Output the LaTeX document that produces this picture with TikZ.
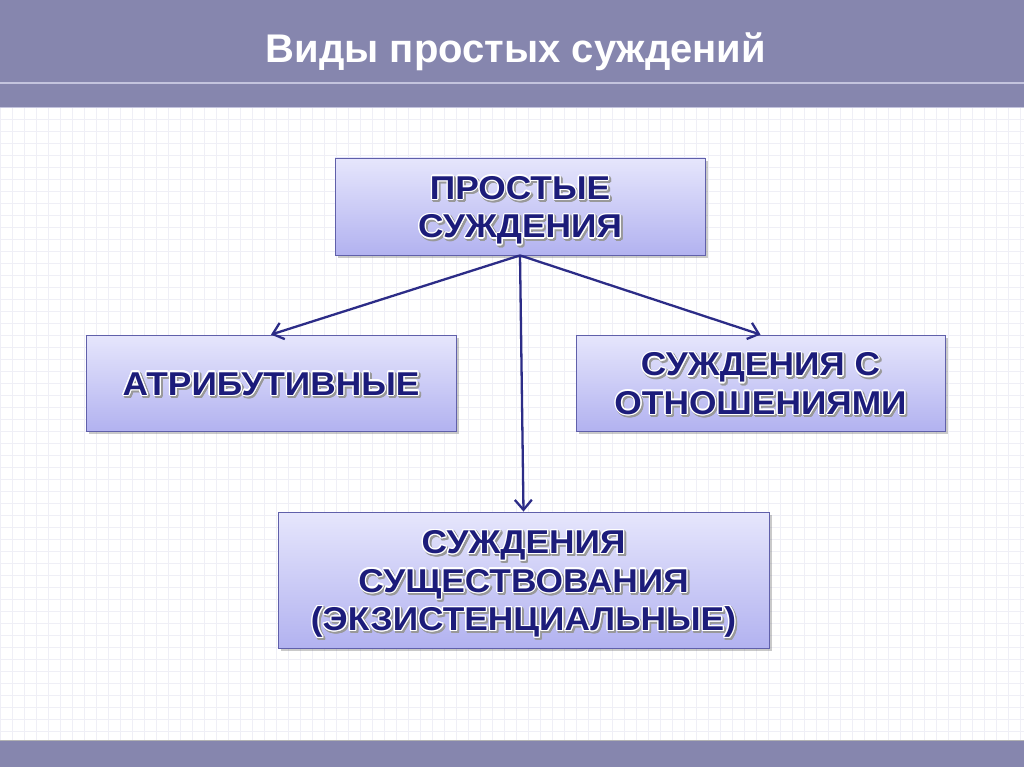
\documentclass[tikz,border=0pt]{standalone}
\usepackage{fontspec}
\setmainfont{Liberation Sans}
\newfontfamily\boxfont{Liberation Sans}[FakeStretch=1.07]
\usepackage{contour}
\contourlength{1.3pt}
\contournumber{12}
\usetikzlibrary{arrows.meta,shadows}
\definecolor{barcol}{RGB}{134,134,174}
\definecolor{barline}{RGB}{196,196,222}
\definecolor{gridcol}{RGB}{239,239,246}
\definecolor{navy}{RGB}{28,28,122}
\definecolor{boxedge}{RGB}{96,96,170}
\definecolor{arrowcol}{RGB}{44,44,135}
\definecolor{boxtop}{RGB}{230,230,252}
\definecolor{boxbot}{RGB}{178,178,240}
\newcommand\fxline[1]{\raisebox{0pt}[0.73em][0pt]{\rlap{\kern1.6pt\raisebox{-1.8pt}{\contourlength{1.6pt}\textcolor{black!40}{\contour{black!40}{#1}}}}\contour{white}{#1}}}
\tikzset{
  box/.style={draw=boxedge, line width=0.8pt, top color=boxtop, bottom color=boxbot,
    drop shadow={shadow xshift=3pt, shadow yshift=-3pt, opacity=0.35, fill=black!60},
    text=navy, font=\boxfont\bfseries\fontsize{33}{38.5}\selectfont, align=center, inner sep=0pt},
  link/.style={draw=arrowcol, line width=2.3pt, -{Straight Barb[length=10pt,width=17pt,line width=2.3pt]}},
}
\begin{document}
\begin{tikzpicture}[x=1pt,y=-1pt]
\useasboundingbox (0,0) rectangle (1024,767);
\fill[white] (0,0) rectangle (1024,767);
% faint grid background
\foreach \gx in {0,12,...,1024} {\draw[gridcol, line width=0.8pt] (\gx,107) -- (\gx,740);}
\foreach \gy in {107,119,...,740} {\draw[gridcol, line width=0.8pt] (0,\gy) -- (1024,\gy);}
% top bar
\fill[barcol] (0,0) rectangle (1024,107);
\draw[barline, line width=2pt] (0,83) -- (1024,83);
\draw[barline, line width=0.6pt] (0,107.5) -- (1024,107.5);
\node[text=white, anchor=base, font=\bfseries\fontsize{40}{44}\selectfont] (title) at (516,63) {Виды простых суждений};
% bottom bar
\fill[barcol] (0,740) rectangle (1024,767);
\draw[black!30, line width=0.8pt] (0,740) -- (1024,740);
% boxes
\node[box, minimum width=370pt, minimum height=97pt] (top) at (520,206.5) {\fxline{ПРОСТЫЕ}\\\fxline{СУЖДЕНИЯ}};
\node[box, minimum width=370pt, minimum height=96pt] (left) at (271,383) {\fxline{АТРИБУТИВНЫЕ}};
\node[box, minimum width=369pt, minimum height=96pt] (right) at (760.5,383) {\fxline{СУЖДЕНИЯ С}\\\fxline{ОТНОШЕНИЯМИ}};
\node[box, minimum width=491pt, minimum height=136pt] (bottom) at (523.5,580) {\fxline{СУЖДЕНИЯ}\\\fxline{СУЩЕСТВОВАНИЯ}\\\fxline{(ЭКЗИСТЕНЦИАЛЬНЫЕ)}};
% connectors
\draw[link] (top.south) -- (left.north);
\draw[link] (top.south) -- (right.north);
\draw[link] (top.south) -- (bottom.north);
\end{tikzpicture}
\end{document}
